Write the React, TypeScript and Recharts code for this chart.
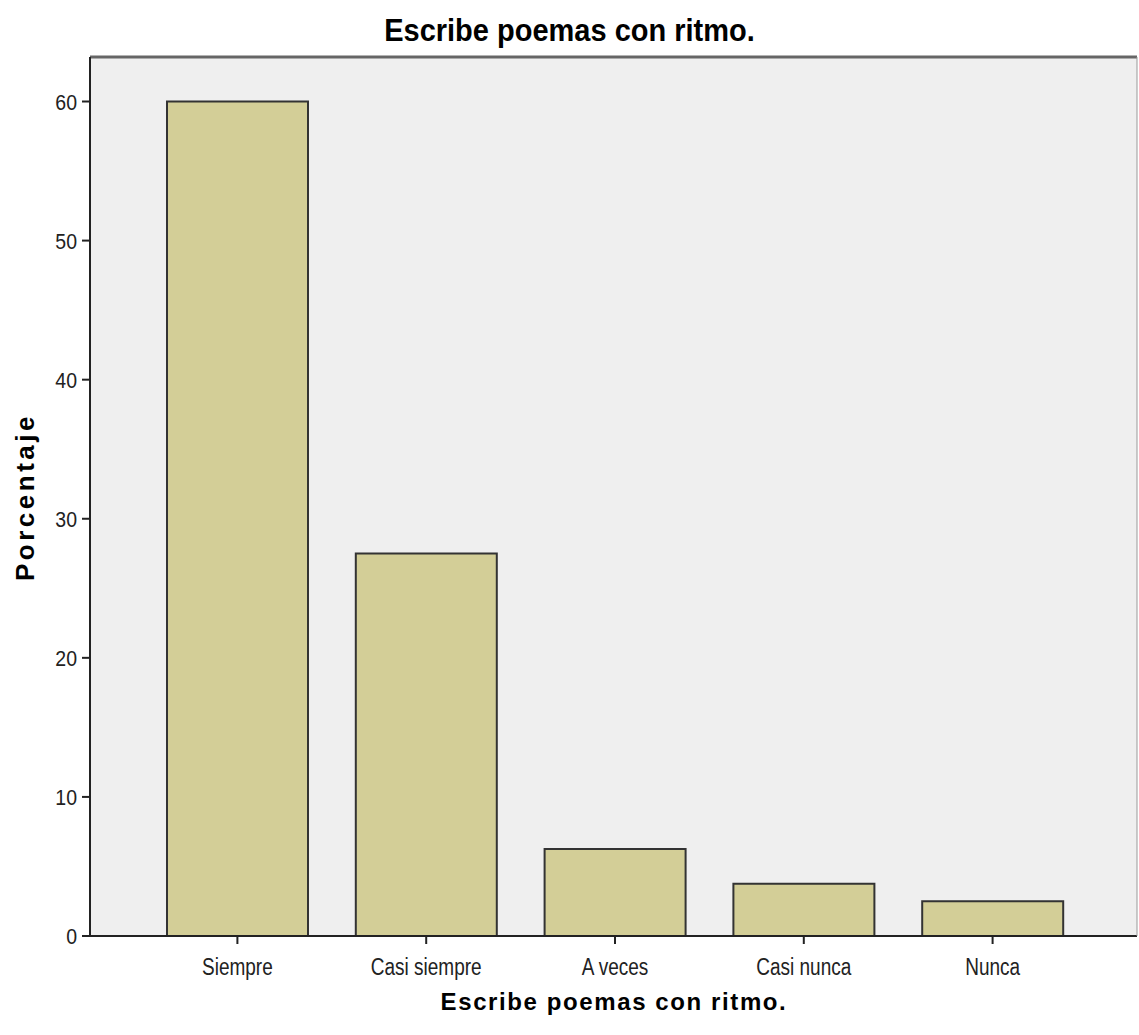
import { BarChart, Bar, XAxis, YAxis, CartesianGrid, ReferenceLine } from 'recharts'

const categories = ['Siempre', 'Casi siempre', 'A veces', 'Casi nunca', 'Nunca']
const percentages = [60, 27.5, 6.25, 3.75, 2.5]
const yTicks = [0, 10, 20, 30, 40, 50, 60]
const yMax = 63.2

const chartTitle = 'Escribe poemas con ritmo.'
const xTitle = 'Escribe poemas con ritmo.'
const yTitle = 'Porcentaje'

const data = categories.map((name, i) => ({ name, value: percentages[i] }))

const font = '"Liberation Sans", Arial, sans-serif'

const XTick = ({ x, y, payload }: any) => (
  <g transform={`translate(${x},${y})`}>
    <text x={0} y={22} textAnchor="middle" fontSize={19} fontFamily={font} fill="#222" transform="scale(1,1.3)">
      {payload.value}
    </text>
  </g>
)

const YTick = ({ x, y, payload }: any) => (
  <g transform={`translate(${x},${y})`}>
    <text x={-3} y={7} textAnchor="end" fontSize={19.5} fontFamily={font} fill="#222" transform="scale(1,1.17)">
      {payload.value}
    </text>
  </g>
)

export default function App() {
  return (
    <div style={{ position: 'absolute', left: 0, top: 0, width: 1139, height: 1035, background: '#fff' }}>
      <div
        style={{
          position: 'absolute', left: 0, width: 1139, top: 12, textAlign: 'center',
          fontFamily: font, fontWeight: 'bold', fontSize: 29, color: '#000',
          transform: 'scaleY(1.1)', lineHeight: '36px',
        }}
      >
        {chartTitle}
      </div>
      <BarChart
        width={1139}
        height={1035}
        data={data}
        margin={{ top: 57, right: 1, left: 0, bottom: 0 }}
        barSize={141}
      >
        <CartesianGrid fill="#EFEFEF" stroke="none" horizontal={false} vertical={false} />
        <XAxis
          dataKey="name"
          height={99}
          padding={{ left: 53, right: 50 }}
          tickSize={8}
          tickLine={{ stroke: '#222', strokeWidth: 2 }}
          axisLine={{ stroke: '#222', strokeWidth: 2 }}
          tick={<XTick />}
          interval={0}
        />
        <YAxis
          width={90}
          domain={[0, yMax]}
          ticks={yTicks}
          tickSize={8}
          tickLine={{ stroke: '#222', strokeWidth: 2 }}
          axisLine={{ stroke: '#222', strokeWidth: 2 }}
          tick={<YTick />}
        />
        <YAxis
          yAxisId="frame"
          orientation="right"
          width={1}
          domain={[0, yMax]}
          tick={false}
          tickLine={false}
          axisLine={{ stroke: '#999', strokeWidth: 1 }}
        />
        <ReferenceLine y={yMax} stroke="#666" strokeWidth={3} />
        <Bar dataKey="value" fill="#D3CE97" stroke="#333" strokeWidth={2} isAnimationActive={false} />
      </BarChart>
      <div
        style={{
          position: 'absolute', left: 90, width: 1048, top: 984, textAlign: 'center',
          fontFamily: font, fontWeight: 'bold', fontSize: 24, letterSpacing: 1.6, color: '#000',
          lineHeight: '36px',
        }}
      >
        {xTitle}
      </div>
      <div
        style={{
          position: 'absolute', left: 25, top: 497, width: 0, height: 0,
        }}
      >
        <div
          style={{
            position: 'absolute', left: -150, top: -18, width: 300, textAlign: 'center',
            fontFamily: font, fontWeight: 'bold', fontSize: 26, letterSpacing: 3.5, color: '#000',
            lineHeight: '36px', transform: 'rotate(-90deg)',
          }}
        >
          {yTitle}
        </div>
      </div>
    </div>
  )
}
